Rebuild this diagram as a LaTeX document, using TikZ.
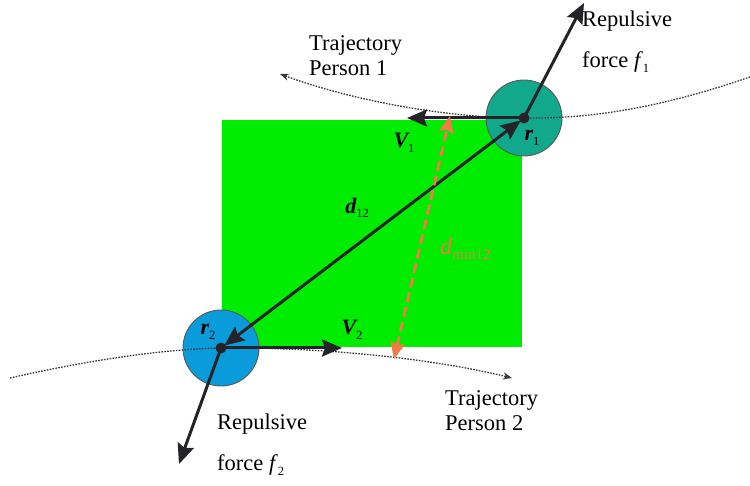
\documentclass[tikz,border=0pt]{standalone}
\usepackage{fontspec}
\setmainfont{Liberation Serif}
\usetikzlibrary{arrows.meta}
\definecolor{rectgreen}{RGB}{0,236,0}
\definecolor{tealc}{RGB}{18,168,140}
\definecolor{bluec}{RGB}{10,155,219}
\definecolor{darkc}{RGB}{36,36,40}
\definecolor{orangec}{RGB}{242,122,70}
\newcommand\lowsub[1]{\raisebox{-0.45ex}{\fontsize{12.5}{13}\selectfont #1}}
\tikzset{
  bigtip/.tip={Stealth[length=20pt,width=17pt,inset=3pt]},
  orangetip/.tip={Stealth[length=17pt,width=15pt,inset=3pt]},
  person/.style={circle,draw=gray!70!black,line width=0.9pt,minimum size=76pt,inner sep=0pt},
  vec/.style={draw=darkc,line width=3pt,-bigtip},
  traj/.style={draw=darkc!90,line width=1.3pt,dash pattern=on 1.6pt off 1.3pt,-{Stealth[length=9pt,width=7pt]}},
  dmin/.style={draw=orangec,line width=2.8pt,dash pattern=on 10pt off 5pt,orangetip-orangetip},
  lbl/.style={font=\fontsize{22.5}{25}\selectfont,inner sep=0pt,align=left},
  sym/.style={font=\fontsize{22}{24}\selectfont\bfseries\itshape,inner sep=0pt},
  dot/.style={circle,fill=darkc,inner sep=0pt,minimum size=11pt}
}
\begin{document}
\begin{tikzpicture}[x=1pt,y=-1pt]
\useasboundingbox (0,0) rectangle (750,486);
% green area
\fill[rectgreen] (222,120) rectangle (522,347);
% persons
\node[person,fill=tealc] (p1) at (524,118) {};
\node[person,fill=bluec] (p2) at (221,348) {};
% trajectories
\coordinate (t1s) at (750,77);
\coordinate (t1e) at (280,74);
\coordinate (t2s) at (10,378);
\coordinate (t2e) at (512,378);
\draw[traj] (t1s) .. controls (660,108) and (590,119) .. (p1.center) .. controls (440,118) and (345,98) .. (t1e);
\draw[traj] (t2s) .. controls (80,362) and (160,349) .. (p2.center) .. controls (320,347) and (430,358) .. (t2e);
% vectors
\coordinate (f1) at (584,3);
\coordinate (v1) at (407,118);
\coordinate (v2) at (342,348);
\coordinate (f2) at (179,464);
\draw[vec] (p1.center) -- (f1);
\draw[vec] (p1.center) -- (v1);
\draw[vec] (p2.center) -- (v2);
\draw[vec] (p2.center) -- (f2);
\draw[vec,bigtip-bigtip,shorten <=4pt,shorten >=4pt] (p2.center) -- (p1.center);
% minimum distance
\coordinate (m1) at (450,116);
\coordinate (m2) at (394,359);
\draw[dmin] (m2) -- (m1);
\node[dot] (c1) at (p1.center) {};
\node[dot] (c2) at (p2.center) {};
% labels
\node[sym] (lv1) at (404,143) {V\lowsub{\normalfont 1}};
\node[sym] (lr1) at (532,138) {r\lowsub{\normalfont 1}};
\node[sym] (lr2) at (208,332) {r\lowsub{\normalfont 2}};
\node[sym] (lv2) at (352,330) {V\lowsub{\normalfont 2}};
\node[sym] (ld12) at (357,208) {d\lowsub{\normalfont 12}};
\node[anchor=west,inner sep=0pt,text=orangec,font=\fontsize{24}{26}\selectfont\itshape] (ldmin) at (440,249) {d\raisebox{-0.45ex}{\fontsize{15}{16}\selectfont\upshape min12}};
\node[lbl,anchor=north west] (tp1) at (309,35) {Trajectory\\Person 1};
\node[lbl,anchor=north west] (tp2) at (445,390) {Trajectory\\Person 2};
\node[lbl,anchor=north west] (rf1) at (582,11) {Repulsive\\[16pt]force \textit{f}\lowsub{1}};
\node[lbl,anchor=north west] (rf2) at (217,414) {Repulsive\\[16pt]force \textit{f}\lowsub{2}};
\end{tikzpicture}
\end{document}
